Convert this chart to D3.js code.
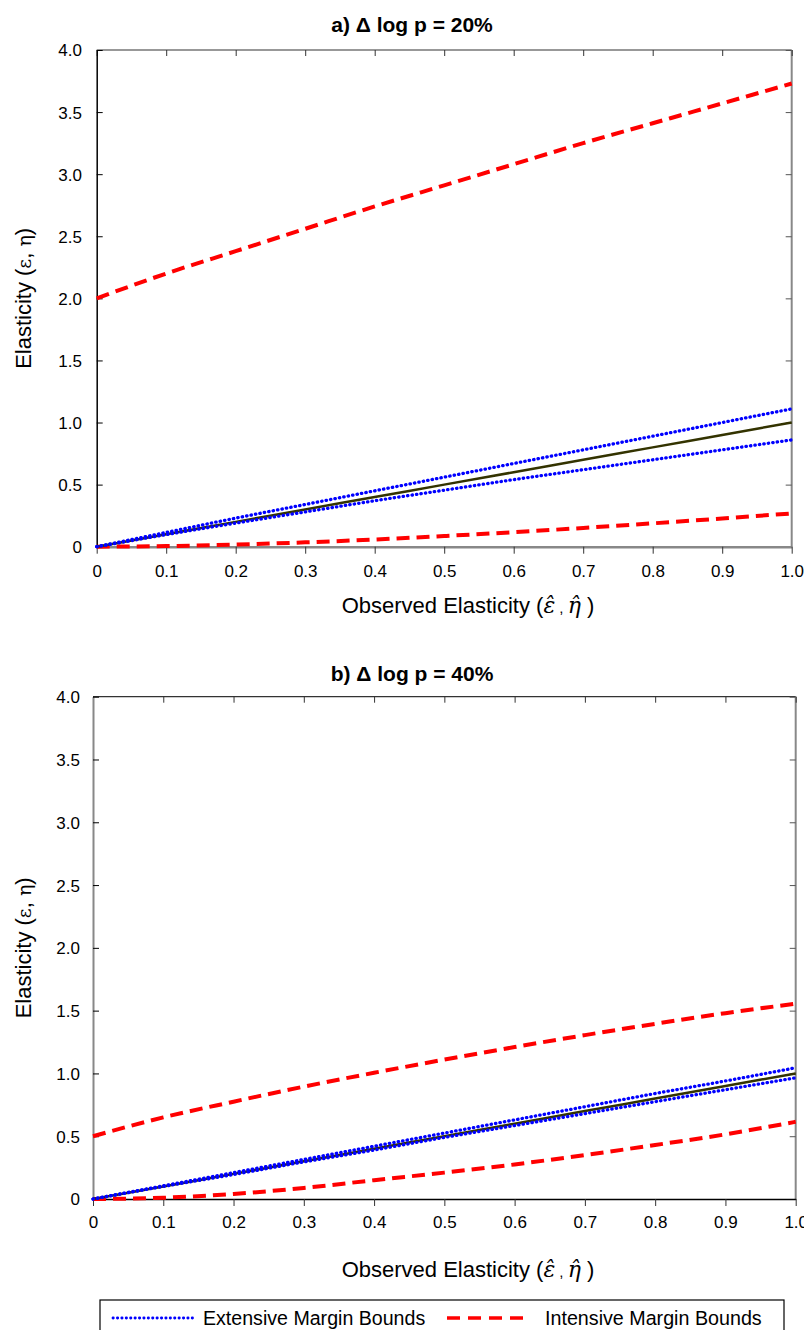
<!DOCTYPE html>
<html>
<head>
<meta charset="utf-8">
<script src="https://cdn.jsdelivr.net/npm/d3@7"></script>
<style>
  html, body { margin: 0; padding: 0; background: #fff; }
  svg { display: block; }
  text { font-family: "Liberation Sans", Arial, sans-serif; fill: #000; }
</style>
</head>
<body>
<svg id="chart" width="804" height="1330"></svg>
<script>
// ---------------- DATA ----------------
const xObserved = [0, 0.1, 0.2, 0.3, 0.4, 0.5, 0.6, 0.7, 0.8, 0.9, 1.0];
const xTickLabels = ["0", "0.1", "0.2", "0.3", "0.4", "0.5", "0.6", "0.7", "0.8", "0.9", "1.0"];
const yTickValues = [0, 0.5, 1, 1.5, 2, 2.5, 3, 3.5, 4];
const yTickLabels = ["0", "0.5", "1.0", "1.5", "2.0", "2.5", "3.0", "3.5", "4.0"];

// Panel a) Δ log p = 20%
const aObserved   = [0, 0.1, 0.2, 0.3, 0.4, 0.5, 0.6, 0.7, 0.8, 0.9, 1.0];
const aExtUpper   = [0, 0.115, 0.23, 0.34, 0.45, 0.56, 0.67, 0.78, 0.89, 1.0, 1.11];
const aExtLower   = [0, 0.097, 0.19, 0.28, 0.37, 0.455, 0.54, 0.62, 0.70, 0.78, 0.86];
const aIntUpper   = [2.0, 2.2, 2.38, 2.56, 2.74, 2.91, 3.08, 3.25, 3.41, 3.57, 3.73];
const aIntLower   = [0, 0.005, 0.017, 0.035, 0.058, 0.086, 0.117, 0.151, 0.188, 0.227, 0.268];

// Panel b) Δ log p = 40%
const bObserved   = [0, 0.1, 0.2, 0.3, 0.4, 0.5, 0.6, 0.7, 0.8, 0.9, 1.0];
const bExtUpper   = [0, 0.105, 0.21, 0.315, 0.42, 0.525, 0.63, 0.735, 0.84, 0.94, 1.045];
const bExtLower   = [0, 0.1, 0.195, 0.295, 0.39, 0.49, 0.585, 0.68, 0.775, 0.87, 0.965];
const bIntUpper   = [0.5, 0.65, 0.775, 0.895, 1.005, 1.11, 1.21, 1.305, 1.395, 1.48, 1.555];
const bIntLower   = [0, 0.01, 0.04, 0.088, 0.15, 0.21, 0.275, 0.35, 0.43, 0.515, 0.615];

const panelTitles = ["a) \u0394 log p = 20%", "b) \u0394 log p = 40%"];
const legendLabels = ["Extensive Margin Bounds", "Intensive Margin Bounds"];

// ---------------- DRAW ----------------
const svg = d3.select("#chart");
const BLUE = "#0000ff", RED = "#ff0000", SOLID = "#333300";

const panels = [
  { title: panelTitles[0], x0: 96.7, x1: 791.7, yTop: 50, yBot: 546.7, titleY: 32,
    obs: aObserved, extU: aExtUpper, extL: aExtLower, intU: aIntUpper, intL: aIntLower,
    tickLabX: 82, xLabY: 577, xTitleY: 613, leftCol: "#000", botCol: "#888", leftW: 1.5, botW: 2.5 },
  { title: panelTitles[1], x0: 93, x1: 795.7, yTop: 696.7, yBot: 1199, titleY: 681,
    obs: bObserved, extU: bExtUpper, extL: bExtLower, intU: bIntUpper, intL: bIntLower,
    tickLabX: 80, xLabY: 1228, xTitleY: 1277, leftCol: "#888", botCol: "#000", leftW: 2, botW: 1.5 }
];

panels.forEach(p => {
  const x = d3.scaleLinear().domain([0, 1]).range([p.x0, p.x1]);
  const y = d3.scaleLinear().domain([0, 4]).range([p.yBot, p.yTop]);
  const g = svg.append("g");

  // title
  g.append("text").attr("x", 412).attr("y", p.titleY)
    .attr("text-anchor", "middle").style("font-size", "21px").style("font-weight", "bold")
    .text(p.title);

  // frame lines
  g.append("line").attr("x1", x(0)).attr("x2", x(1)).attr("y1", y(4)).attr("y2", y(4))
    .attr("stroke", "#333").attr("stroke-width", 1.2);
  g.append("line").attr("x1", x(1)).attr("x2", x(1)).attr("y1", y(4)).attr("y2", y(0))
    .attr("stroke", "#888").attr("stroke-width", 2);

  // top ticks (inside)
  const topAxis = d3.axisTop(x).tickValues(xObserved).tickSizeInner(-6).tickSizeOuter(0).tickFormat("");
  const gt = g.append("g").attr("transform", `translate(0,${y(4)})`).call(topAxis);
  gt.select(".domain").remove();
  gt.selectAll(".tick line").attr("stroke", "#333");

  // right ticks (inside)
  const rightAxis = d3.axisRight(y).tickValues(yTickValues).tickSizeInner(-6).tickSizeOuter(0).tickFormat("");
  const gr = g.append("g").attr("transform", `translate(${x(1)},0)`).call(rightAxis);
  gr.select(".domain").remove();
  gr.selectAll(".tick line").attr("stroke", "#555");

  // left axis (ticks inside)
  const leftAxis = d3.axisLeft(y).tickValues(yTickValues).tickSizeInner(-6).tickSizeOuter(0)
    .tickPadding(0).tickFormat((d, i) => yTickLabels[i]);
  const gl = g.append("g").attr("transform", `translate(${x(0)},0)`).call(leftAxis);
  gl.select(".domain").attr("stroke", p.leftCol).attr("stroke-width", p.leftW);
  gl.selectAll(".tick line").attr("stroke", "#000");
  gl.selectAll(".tick text").attr("x", p.tickLabX - x(0)).attr("dy", "0.35em")
    .style("font-size", "17px").style("font-family", "Liberation Sans, Arial, sans-serif");

  // bottom axis (ticks outside)
  const botAxis = d3.axisBottom(x).tickValues(xObserved).tickSizeInner(7).tickSizeOuter(0)
    .tickFormat((d, i) => xTickLabels[i]);
  const gb = g.append("g").attr("transform", `translate(0,${y(0)})`).call(botAxis);
  gb.select(".domain").attr("stroke", p.botCol).attr("stroke-width", p.botW);
  gb.selectAll(".tick line").attr("stroke", "#333");
  gb.selectAll(".tick text").attr("y", p.xLabY - y(0)).attr("dy", 0)
    .style("font-size", "17px").style("font-family", "Liberation Sans, Arial, sans-serif");

  // lines
  const line = d3.line().x(d => x(d[0])).y(d => y(d[1])).curve(d3.curveMonotoneX);
  const series = arr => p.obs.map((v, i) => [v, arr[i]]);

  g.append("path").attr("d", line(series(p.intL))).attr("fill", "none")
    .attr("stroke", RED).attr("stroke-width", 4).attr("stroke-dasharray", "13,7");
  g.append("path").attr("d", line(series(p.intU))).attr("fill", "none")
    .attr("stroke", RED).attr("stroke-width", 4).attr("stroke-dasharray", "13,7");
  g.append("path").attr("d", line(series(p.obs))).attr("fill", "none")
    .attr("stroke", SOLID).attr("stroke-width", 2.5);
  g.append("path").attr("d", line(series(p.extU))).attr("fill", "none")
    .attr("stroke", BLUE).attr("stroke-width", 3.3).attr("stroke-linecap", "round")
    .attr("stroke-dasharray", "0.4,4.1");
  g.append("path").attr("d", line(series(p.extL))).attr("fill", "none")
    .attr("stroke", BLUE).attr("stroke-width", 3.3).attr("stroke-linecap", "round")
    .attr("stroke-dasharray", "0.4,4.1");

  // y axis title
  const yMid = (p.yTop + p.yBot) / 2;
  const yt = g.append("text").attr("transform", `translate(31,${yMid}) rotate(-90)`)
    .attr("text-anchor", "middle").style("font-size", "22px");
  yt.append("tspan").text("Elasticity (");
  yt.append("tspan").style("font-family", "DejaVu Serif, serif").style("font-size", "19px").text("\u03b5");
  yt.append("tspan").text(", ");
  yt.append("tspan").style("font-family", "DejaVu Serif, serif").style("font-size", "19px").text("\u03b7");
  yt.append("tspan").text(")");

  // x axis title
  const xt = g.append("text").attr("x", 468).attr("y", p.xTitleY)
    .attr("text-anchor", "middle").style("font-size", "22px");
  xt.append("tspan").text("Observed Elasticity (");
  xt.append("tspan").style("font-family", "DejaVu Serif, serif").style("font-style", "italic")
    .style("font-size", "22px").text("\u03b5\u0302");
  xt.append("tspan").style("font-size", "15px").text(" ,  ");
  xt.append("tspan").style("font-family", "DejaVu Serif, serif").style("font-style", "italic")
    .style("font-size", "22px").text("\u03b7\u0302");
  xt.append("tspan").text(" )");
});

// ---------------- LEGEND ----------------
const lg = svg.append("g");
lg.append("rect").attr("x", 100).attr("y", 1300).attr("width", 684).attr("height", 50)
  .attr("fill", "#fff").attr("stroke", "#000").attr("stroke-width", 1.2);
lg.append("line").attr("x1", 113).attr("x2", 193).attr("y1", 1318).attr("y2", 1318)
  .attr("stroke", BLUE).attr("stroke-width", 2.8).attr("stroke-linecap", "round")
  .attr("stroke-dasharray", "0.3,4.1");
lg.append("text").attr("x", 203).attr("y", 1325).style("font-size", "19.6px").text(legendLabels[0]);
lg.append("line").attr("x1", 447).attr("x2", 530).attr("y1", 1318).attr("y2", 1318)
  .attr("stroke", RED).attr("stroke-width", 3.5).attr("stroke-dasharray", "13,8");
lg.append("text").attr("x", 545).attr("y", 1325).style("font-size", "19.7px").text(legendLabels[1]);
</script>
</body>
</html>
